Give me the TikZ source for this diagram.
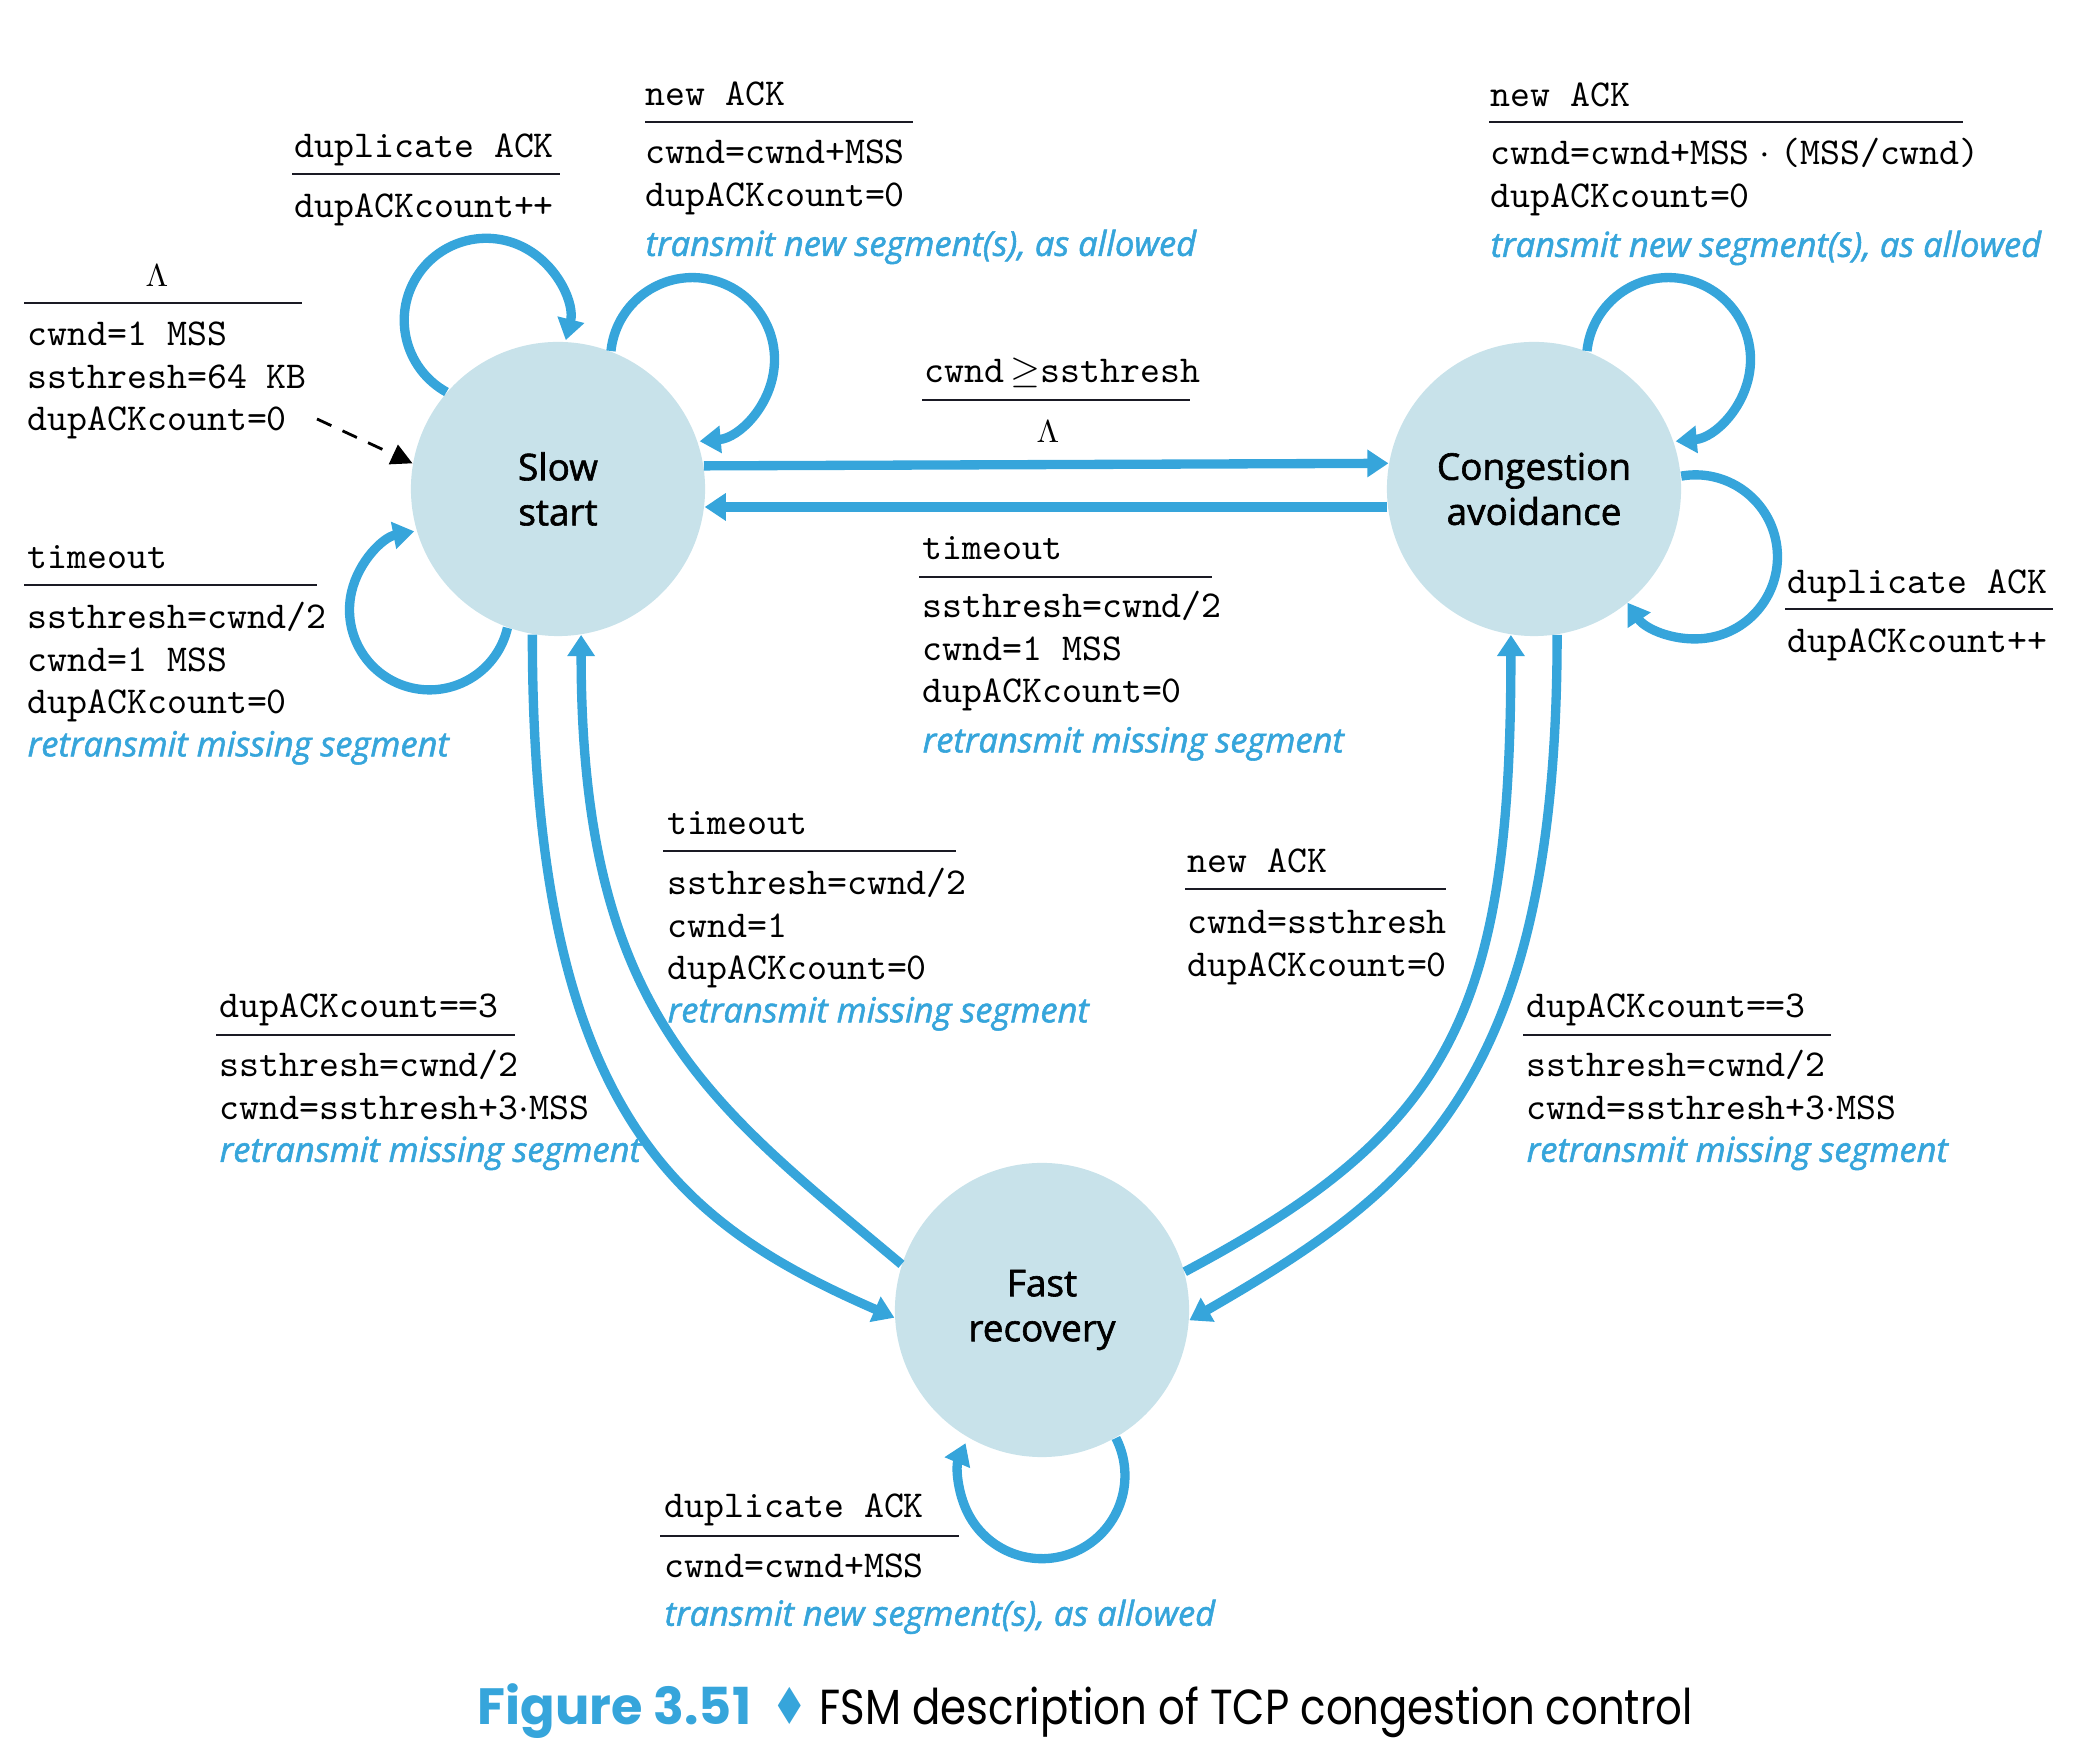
\documentclass[tikz,border=0pt]{standalone}
\usepackage{fontspec}
\usetikzlibrary{arrows.meta}
\newfontfamily\fsmsans{Open Sans}[FakeBold=1.6]
\newfontfamily\fsmsansit{Open Sans}[FakeBold=1.6]
\newfontfamily\fsmcap{Poppins}
\newfontfamily\fsmcapn{Poppins}[FakeStretch=0.85]
\newfontfamily\fsmsym{DejaVu Sans}[FakeStretch=0.8]
\definecolor{tcpblue}{HTML}{36A5DB}
\definecolor{statefill}{HTML}{C8E2EA}
\definecolor{rulecolor}{HTML}{1A1A24}
\newcommand\fsmtt{\ttfamily\fontsize{10.8}{12.07}\selectfont}
\newcommand\fsmact{\color{tcpblue}\fsmsansit\itshape\fontsize{9.8}{12}\selectfont}
\newcommand\fsmstate{\fsmsans\fontsize{10.5}{12.8}\selectfont}
\newcommand\fsmlines[1]{\begin{tabular}[t]{@{}l@{}}#1\end{tabular}}
\begin{document}
\begin{tikzpicture}[x=0.01cm,y=0.01cm,
    state/.style={circle,fill=statefill,minimum size=2.94cm,inner sep=0pt,
      font=\fsmstate,align=center},
    trans/.style={draw=tcpblue,line width=2.65pt,-{Triangle[length=6pt,width=7.5pt]}},
    initarrow/.style={draw=black,line width=0.8pt,dash pattern=on 4.5pt off 3.5pt,
      -{Triangle[length=6pt,width=6pt]}},
    event/.style={anchor=base west,inner sep=0pt,font=\fsmtt},
    action/.style={anchor=base west,inner sep=0pt,font=\fsmtt},
    rule/.style={draw=rulecolor,line width=0.8pt}]
  \useasboundingbox (0,0) rectangle (2082,1764);

  % states
  \node[state] (ss) at (558,1275) {Slow\\start};
  \node[state] (ca) at (1534,1275) {Congestion\\avoidance};
  \node[state] (fr) at (1042,454) {Fast\\recovery};

  % initial transition
  \coordinate (init) at (317,1345);
  \draw[initarrow] (init) -- (ss.170);
  \node[event,anchor=base,font=\fontsize{9.5}{12}\selectfont] (initev) at (157,1477) {$\Lambda$};
  \draw[rule] (24,1461) -- (302,1461);
  \node[action] (initact) at (27,1418) {\fsmlines{cwnd=1 MSS\\ssthresh=64 KB\\dupACKcount=0}};

  % slow start
  \draw[trans] (ss.139) arc[start angle=241,end angle=-14,radius=82];
  \node[event] (ssdupev) at (294,1606) {duplicate ACK};
  \draw[rule] (292,1590) -- (560,1590);
  \node[action] (ssdupact) at (294,1546) {dupACKcount++};

  \draw[trans] (ss.69.5) arc[start angle=174,end angle=-85,radius=82];
  \node[event] (ssnewev) at (645,1658) {new ACK};
  \draw[rule] (645,1642) -- (913,1642);
  \node[action] (ssnewact) at (645,1600) {\fsmlines{cwnd=cwnd+MSS\\dupACKcount=0\\[2pt]\fsmact transmit new segment(s), as allowed}};

  \draw[trans] (ss.250) arc[start angle=-13,end angle=-259,radius=80];
  \node[event] (sstoev) at (27,1195) {timeout};
  \draw[rule] (24,1179) -- (317,1179);
  \node[action] (sstoact) at (27,1135) {\fsmlines{ssthresh=cwnd/2\\cwnd=1 MSS\\dupACKcount=0\\\fsmact retransmit missing segment}};

  % slow start <-> congestion avoidance
  \draw[trans] (ss.9.5) -- (ca.170.5);
  \node[event] (sscaev) at (924,1381) {cwnd\,$\geq$ssthresh};
  \draw[rule] (922,1364) -- (1190,1364);
  \node[event,anchor=base,font=\fontsize{9.5}{12}\selectfont] (sscaact) at (1048,1321) {$\Lambda$};

  \draw[trans] (ca.187.5) -- (ss.-7.5);
  \node[event] (cassev) at (922,1204) {timeout};
  \draw[rule] (919,1187) -- (1212,1187);
  \node[action] (cassact) at (922,1146) {\fsmlines{ssthresh=cwnd/2\\cwnd=1 MSS\\dupACKcount=0\\[2pt]\fsmact retransmit missing segment}};

  % congestion avoidance
  \draw[trans] (ca.69.5) arc[start angle=174,end angle=-85,radius=82];
  \node[event] (canewev) at (1490,1657) {new ACK};
  \draw[rule] (1489,1642) -- (1963,1642);
  \node[action] (canewact) at (1490,1599) {\fsmlines{cwnd=cwnd+MSS\makebox[0.8em]{$\cdot$}(MSS/cwnd)\\dupACKcount=0\\[2pt]\fsmact transmit new segment(s), as allowed}};

  \draw[trans] (ca.5) arc[start angle=100,end angle=-146,radius=82];
  \node[event] (cadupev) at (1787,1170) {duplicate ACK};
  \draw[rule] (1785,1155) -- (2053,1155);
  \node[action] (cadupact) at (1787,1111) {dupACKcount++};

  % slow start <-> fast recovery
  \draw[trans] (ss.260) .. controls +(0,-480) and +(-215,94) .. (fr.183);
  \node[event] (ssfrev) at (219,746) {dupACKcount==3};
  \draw[rule] (216,729) -- (515,729);
  \node[action] (ssfract) at (219,687) {\fsmlines{ssthresh=cwnd/2\\cwnd=ssthresh+3$\cdot$MSS\\\fsmact retransmit missing segment}};

  \draw[trans] (fr.162) .. controls +(-192,161) and +(0,-380) .. (ss.279);
  \node[event] (frssev) at (667,929) {timeout};
  \draw[rule] (663,913) -- (956,913);
  \node[action] (frssact) at (667,869) {\fsmlines{ssthresh=cwnd/2\\cwnd=1\\dupACKcount=0\\\fsmact retransmit missing segment}};

  % fast recovery <-> congestion avoidance
  \draw[trans] (fr.15.6) .. controls +(265,141) and +(0,-380) .. (ca.261);
  \node[event] (frcaev) at (1187,891) {new ACK};
  \draw[rule] (1185,875) -- (1446,875);
  \node[action] (frcaact) at (1187,830) {\fsmlines{cwnd=ssthresh\\dupACKcount=0}};

  \draw[trans] (ca.279) .. controls +(0,-450) and +(225,130) .. (fr.-4.6);
  \node[event] (cafrev) at (1526,746) {dupACKcount==3};
  \draw[rule] (1523,729) -- (1831,729);
  \node[action] (cafract) at (1526,687) {\fsmlines{ssthresh=cwnd/2\\cwnd=ssthresh+3$\cdot$MSS\\\fsmact retransmit missing segment}};

  % fast recovery
  \draw[trans] (fr.-60) arc[start angle=27,end angle=-203,radius=83];
  \node[event] (frdupev) at (664,246) {duplicate ACK};
  \draw[rule] (660,228) -- (959,228);
  \node[action] (frdupact) at (664,186) {\fsmlines{cwnd=cwnd+MSS\\[1.5pt]\fsmact transmit new segment(s), as allowed}};

  % caption
  \node[anchor=base west,inner sep=0pt,font=\fontsize{14.5}{16}\selectfont] (caption) at (477,39)
    {{\fsmcap\bfseries\color{tcpblue}Figure 3.51}\hspace{0.2cm}{\fsmsym\color{tcpblue}♦}\hspace{0.12cm}{\fontsize{14}{16}\selectfont\fsmcapn FSM description of TCP congestion control}};
\end{tikzpicture}
\end{document}
